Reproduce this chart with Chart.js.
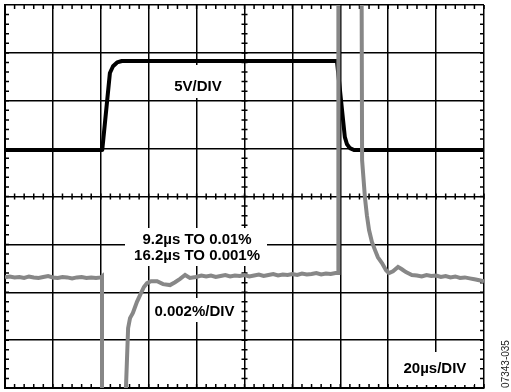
<!DOCTYPE html>
<html>
<head>
<meta charset="utf-8">
<script src="https://cdn.jsdelivr.net/npm/chart.js@4.4.1/dist/chart.umd.min.js"></script>
<style>
  body { margin: 0; background: #fff; }
  #wrap { position: relative; width: 511px; height: 392px; }
</style>
</head>
<body>
<div id="wrap"><canvas id="chart" width="511" height="392"></canvas></div>
<script>
// time in µs (20µs/DIV), level in divisions (0..8)
const xTicks = [0, 20, 40, 60, 80, 100, 120, 140, 160, 180, 200];
const yTicks = [0, 1, 2, 3, 4, 5, 6, 7, 8];

// input step, 5V/DIV
const stepTime = [0, 40.6, 43.8, 45.1, 46.8, 48.8, 138.6, 141.9, 142.8, 144.0, 145.7, 200];
const stepLevel = [4.97, 4.97, 6.58, 6.72, 6.80, 6.83, 6.83, 5.24, 5.09, 5.01, 4.97, 4.97];

// settling error, 0.002%/DIV (goes off screen at the edges)
const errTime = [0, 2, 4, 6, 8, 10, 12, 14, 16, 18, 20, 22, 24, 26, 28, 30, 32, 34, 36, 38, 40.0, 40.5, 40.5,
    50.4, 50.5, 51.4, 52.2, 53.4, 55.1, 56.4, 58.0, 59.3, 61.0, 63.5, 66.0, 68.9, 71.0, 73.1, 75.2, 77.2, 79.7,
    82, 84, 86, 88, 90, 92, 94, 96, 98, 100, 102, 104, 106, 108, 110, 112, 114, 116, 118, 120,
    122, 124, 126, 128, 130, 132, 134, 136, 138, 139.2, 139.2,
    148.9, 149.1, 150.3, 151.1, 152.0, 153.2, 154.5, 155.7, 157.4, 159.1, 160.3, 162.0, 164.1, 165.7, 167.4, 169.9,
    172, 174, 176, 178, 180, 182, 184, 186, 188, 190, 192, 194, 196, 198, 200];
const errLevel = [2.31, 2.33, 2.31, 2.32, 2.30, 2.33, 2.31, 2.30, 2.32, 2.34, 2.31, 2.30, 2.32, 2.31, 2.29, 2.31, 2.32, 2.30, 2.31, 2.30, 2.31, 2.33, -0.3,
    -0.3, 0, 1.25, 1.46, 1.57, 1.80, 1.94, 2.11, 2.19, 2.23, 2.23, 2.17, 2.15, 2.21, 2.28, 2.36, 2.30, 2.32,
    2.35, 2.33, 2.35, 2.32, 2.34, 2.36, 2.33, 2.35, 2.34, 2.36, 2.33, 2.35, 2.37, 2.34, 2.36, 2.38, 2.35, 2.37, 2.36, 2.38,
    2.36, 2.39, 2.37, 2.38, 2.40, 2.37, 2.39, 2.38, 2.40, 2.40, 8.3,
    8.3, 4.76, 3.97, 3.61, 3.30, 3.05, 2.88, 2.73, 2.61, 2.46, 2.40, 2.44, 2.53, 2.48, 2.42, 2.36,
    2.35, 2.33, 2.36, 2.34, 2.35, 2.32, 2.34, 2.31, 2.33, 2.30, 2.31, 2.29, 2.27, 2.25, 2.23];

const ctx = document.getElementById("chart").getContext("2d");

function toPoints(xs, ys) {
    return xs.map((x, i) => ({ x: x, y: ys[i] }));
}

// minor ticks on the frame and on the centre axes, plus the text boxes
const scopeDecor = {
    id: "scopeDecor",
    beforeDatasetsDraw(chart) {
        const c = chart.ctx;
        const xs = chart.scales.x, ys = chart.scales.y;
        const a = chart.chartArea;
        const cx = xs.getPixelForValue(100), cy = ys.getPixelForValue(4);
        c.save();
        c.strokeStyle = "#000";
        c.lineWidth = 1.5;
        c.beginPath();
        for (let t = 0; t <= 200; t += 4) {
            const px = xs.getPixelForValue(t);
            c.moveTo(px, a.top); c.lineTo(px, a.top + 4);
            c.moveTo(px, a.bottom); c.lineTo(px, a.bottom - 4);
            c.moveTo(px, cy - 3); c.lineTo(px, cy + 3);
        }
        for (let v = 0; v <= 8; v += 0.2) {
            const py = ys.getPixelForValue(v);
            c.moveTo(a.left, py); c.lineTo(a.left + 4, py);
            c.moveTo(a.right, py); c.lineTo(a.right - 4, py);
            c.moveTo(cx - 3, py); c.lineTo(cx + 3, py);
        }
        c.stroke();

        // white boxes that cover the grid behind the labels
        c.fillStyle = "#fff";
        c.fillRect(160, 65, 80, 33);
        c.fillRect(125, 228, 142, 38);
        c.fillRect(151, 298, 90, 24);
        c.fillRect(398, 352, 76, 33);

        c.fillStyle = "#000";
        c.font = "bold 15px 'Liberation Sans', Arial, sans-serif";
        c.textAlign = "center";
        c.textBaseline = "middle";
        c.fillText("5V/DIV", xs.getPixelForValue(80.6), ys.getPixelForValue(6.28));
        c.fillText("9.2µs TO 0.01%", xs.getPixelForValue(80.2), ys.getPixelForValue(3.09));
        c.fillText("16.2µs TO 0.001%", xs.getPixelForValue(80.2), ys.getPixelForValue(2.76));
        c.fillText("0.002%/DIV", xs.getPixelForValue(79.1), ys.getPixelForValue(1.59));
        c.fillText("20µs/DIV", xs.getPixelForValue(179.5), ys.getPixelForValue(0.41));

        // figure id, rotated, outside the frame
        c.font = "10px 'Liberation Sans', Arial, sans-serif";
        c.fillStyle = "#222";
        c.translate(506, 364);
        c.rotate(-Math.PI / 2);
        c.fillText("07343-035", 0, 0);
        c.restore();
    }
};

const chart = new Chart(ctx, {
    type: "line",
    data: {
        datasets: [
            {
                label: "error",
                data: toPoints(errTime, errLevel),
                borderColor: "#878787",
                borderWidth: 4,
                pointRadius: 0,
                tension: 0,
                clip: 0
            },
            {
                label: "step",
                data: toPoints(stepTime, stepLevel),
                borderColor: "#000",
                borderWidth: 4,
                pointRadius: 0,
                tension: 0,
                borderJoinStyle: "round",
                clip: 0
            }
        ]
    },
    options: {
        responsive: false,
        animation: false,
        layout: { padding: { left: 5, top: 5, right: 27, bottom: 4 } },
        plugins: {
            legend: { display: false },
            tooltip: { enabled: false }
        },
        scales: {
            x: {
                type: "linear",
                min: 0,
                max: 200,
                afterBuildTicks: (s) => { s.ticks = xTicks.map(v => ({ value: v })); },
                ticks: { display: false },
                grid: { color: "#000", lineWidth: 1.5, drawTicks: false },
                border: { display: true, color: "#000", width: 2 }
            },
            y: {
                type: "linear",
                min: 0,
                max: 8,
                afterBuildTicks: (s) => { s.ticks = yTicks.map(v => ({ value: v })); },
                ticks: { display: false },
                grid: { color: "#000", lineWidth: 1.5, drawTicks: false },
                border: { display: true, color: "#000", width: 2 }
            }
        }
    },
    plugins: [scopeDecor]
});
</script>
</body>
</html>
